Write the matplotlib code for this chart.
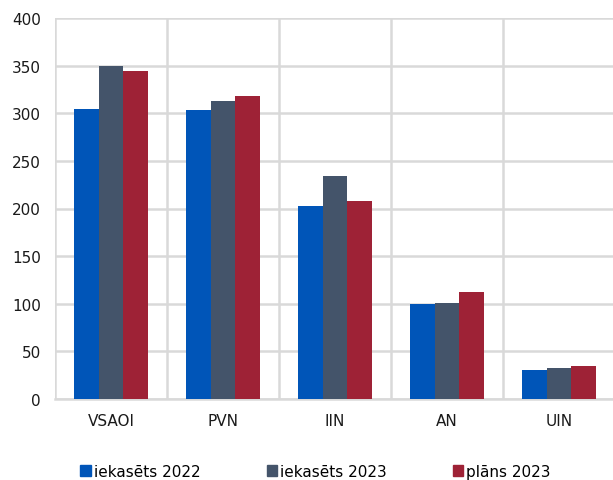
import numpy as np
import matplotlib.pyplot as plt
from matplotlib.patches import Patch

# data
categories = ['VSAOI', 'PVN', 'IIN', 'AN', 'UIN']
iekasets_2022 = [304.5, 303.0, 202.5, 99.5, 30.5]
iekasets_2023 = [350.0, 313.0, 234.5, 101.0, 32.5]
plans_2023 = [344.5, 318.0, 208.0, 112.0, 35.0]
series_labels = ['iekasēts 2022', 'iekasēts 2023', 'plāns 2023']
colors = ['#0055b8', '#44546a', '#9e2236']

plt.rcParams['font.family'] = 'DejaVu Sans'

fig = plt.figure(figsize=(6.13, 4.81), dpi=100)
ax = fig.add_axes([55/613, 1 - 400/481, 560/613, 381/481])

x = np.arange(len(categories))
w = 0.223
for i, (vals, c) in enumerate(zip([iekasets_2022, iekasets_2023, plans_2023], colors)):
    ax.bar(x + (i - 1) * w, vals, width=w, color=c, zorder=3)

ax.set_xlim(-0.5, len(categories) - 0.5)
ax.set_ylim(0, 400)
ax.set_yticks(np.arange(0, 401, 50))
ax.set_xticks(x)
ax.set_xticklabels(categories)

# horizontal grid + vertical separators between categories
ax.grid(axis='y', color='#d9d9d9', linewidth=1.8, zorder=0)
for b in np.arange(-0.5, len(categories) + 0.5, 1):
    ax.axvline(b, color='#d9d9d9', linewidth=1.8, zorder=0)

for s in ['top', 'right', 'left']:
    ax.spines[s].set_visible(False)
ax.spines['bottom'].set_color('#d9d9d9')
ax.spines['bottom'].set_linewidth(1.8)
ax.tick_params(axis='both', length=0, labelsize=11, colors='#1a1a1a')
ax.tick_params(axis='x', pad=10)
ax.tick_params(axis='y', pad=10)

handles = [Patch(color=c) for c in colors]
fig.legend(handles, series_labels, loc='center', bbox_to_anchor=(0.515, 0.018),
           ncol=3, frameon=False, fontsize=11, handlelength=0.7, handleheight=0.7,
           handletextpad=0.2, columnspacing=4.3, borderpad=0)

fig.savefig('out.png', dpi=100)
